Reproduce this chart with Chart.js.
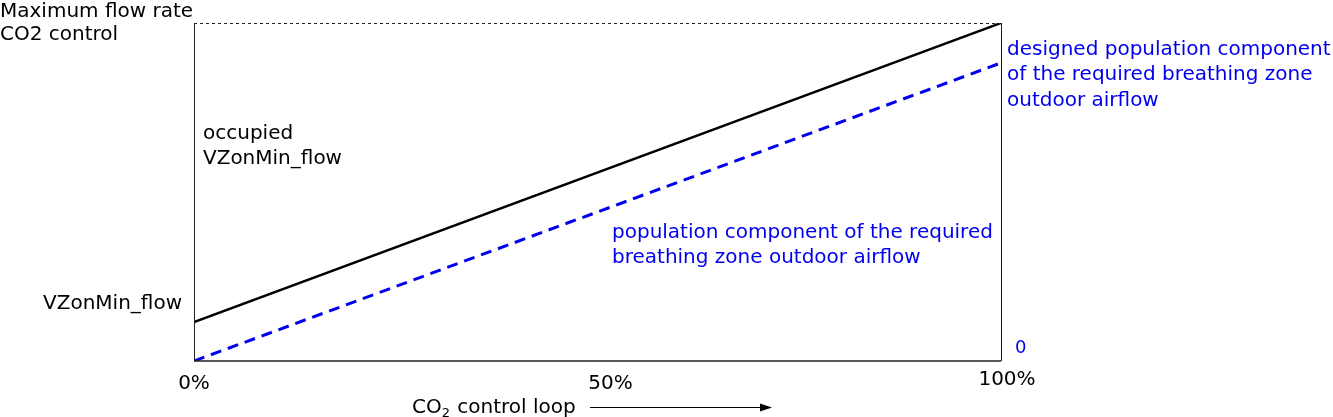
<!DOCTYPE html>
<html>
<head>
<meta charset="utf-8">
<script src="https://cdn.jsdelivr.net/npm/chart.js@4"></script>
<style>
  html, body { margin: 0; padding: 0; background: #fff; }
  #wrap { width: 1333px; height: 417px; }
</style>
</head>
<body>
<div id="wrap"><canvas id="grafico"></canvas></div>
<script>
// datos del diagrama (fracción del caudal máximo)
const loopPct = [0, 100];
const zoneFlow = [0.115, 1];        // caudal de zona, negro
const popComponent = [0, 0.882];    // componente de población, azul
const xTickLabels = ["0%", "50%", "100%"];
const xTickValues = [0, 50, 100];

const FONT = "20px 'DejaVu Sans'";
const BLUE = "#0000ee";

// textos y bordes dibujados alrededor del área del gráfico
const extras = {
  id: "extras",
  afterDraw(chart) {
    const ctx = chart.ctx;
    const a = chart.chartArea;
    const x = chart.scales.x;
    ctx.save();

    // bordes
    ctx.lineWidth = 1;
    ctx.strokeStyle = "#222";
    ctx.setLineDash([3, 3]);
    ctx.beginPath();
    ctx.moveTo(a.left, a.top + 0.5);
    ctx.lineTo(a.right, a.top + 0.5);
    ctx.stroke();
    ctx.setLineDash([]);
    ctx.beginPath();
    ctx.moveTo(a.left + 0.5, a.top);
    ctx.lineTo(a.left + 0.5, a.bottom);
    ctx.stroke();
    ctx.lineWidth = 1.5;
    ctx.beginPath();
    ctx.moveTo(a.left, a.bottom);
    ctx.lineTo(a.right, a.bottom);
    ctx.stroke();
    ctx.lineWidth = 1;
    ctx.strokeStyle = BLUE;
    ctx.beginPath();
    ctx.moveTo(a.right + 0.5, a.top);
    ctx.lineTo(a.right + 0.5, a.bottom);
    ctx.stroke();

    ctx.font = FONT;
    ctx.textBaseline = "middle";

    // etiquetas negras
    ctx.fillStyle = "#000";
    ctx.textAlign = "left";
    ctx.fillText("Maximum flow rate", 0, 12);
    ctx.fillText("CO2 control", 0, 35);
    ctx.fillText("occupied", a.left + 9, 134);
    ctx.fillText("VZonMin_flow", a.left + 9, 159);
    ctx.textAlign = "right";
    ctx.fillText("VZonMin_flow", a.left - 12, 304);

    // ticks del eje x
    const tickOffsets = [[0, 384], [13, 384], [6, 380]];
    ctx.textAlign = "center";
    xTickValues.forEach((v, i) => {
      ctx.fillText(xTickLabels[i], x.getPixelForValue(v) + tickOffsets[i][0], tickOffsets[i][1]);
    });

    // título del eje: CO₂ control loop
    ctx.textAlign = "left";
    let tx = 412;
    ctx.fillText("CO", tx, 408);
    tx += ctx.measureText("CO").width;
    ctx.font = "13px 'DejaVu Sans'";
    ctx.fillText("2", tx, 414);
    tx += ctx.measureText("2").width + 1;
    ctx.font = FONT;
    ctx.fillText(" control loop", tx, 408);

    // flecha
    ctx.strokeStyle = "#000";
    ctx.lineWidth = 1;
    ctx.beginPath();
    ctx.moveTo(590, 407.5);
    ctx.lineTo(762, 407.5);
    ctx.stroke();
    ctx.beginPath();
    ctx.moveTo(772, 407.5);
    ctx.lineTo(760, 403.5);
    ctx.lineTo(760, 411.5);
    ctx.closePath();
    ctx.fill();

    // etiquetas azules
    ctx.fillStyle = BLUE;
    ctx.fillText("designed population component", a.right + 6, 50);
    ctx.fillText("of the required breathing zone", a.right + 6, 75);
    ctx.fillText("outdoor airflow", a.right + 6, 101);
    ctx.fillText("population component of the required", 612, 233);
    ctx.fillText("breathing zone outdoor airflow", 612, 258);
    ctx.font = "18px 'DejaVu Sans'";
    ctx.fillText("0", a.right + 14, 348);

    ctx.restore();
  }
};

const ctx = document.getElementById("grafico").getContext("2d");
new Chart(ctx, {
  type: "line",
  data: {
    labels: loopPct,
    datasets: [
      {
        label: "VZonMin_flow",
        data: loopPct.map((v, i) => ({ x: v, y: zoneFlow[i] })),
        borderColor: "#000",
        borderWidth: 2.5,
        pointRadius: 0,
        fill: false
      },
      {
        label: "population component",
        data: loopPct.map((v, i) => ({ x: v, y: popComponent[i] })),
        borderColor: BLUE,
        borderWidth: 3,
        borderDash: [11, 7],
        pointRadius: 0,
        fill: false
      }
    ]
  },
  options: {
    responsive: true,
    maintainAspectRatio: false,
    animation: false,
    layout: { padding: { left: 194, right: 332, top: 23, bottom: 56 } },
    plugins: { legend: { display: false }, tooltip: { enabled: false } },
    scales: {
      x: { type: "linear", min: 0, max: 100, display: false },
      y: { min: 0, max: 1, display: false }
    }
  },
  plugins: [extras]
});
</script>
</body>
</html>
